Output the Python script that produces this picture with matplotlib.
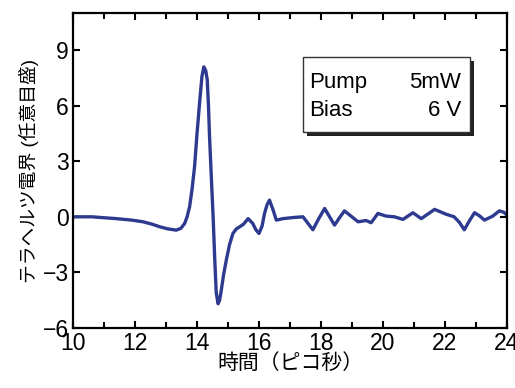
import numpy as np
import matplotlib
matplotlib.use("Agg")
import matplotlib.pyplot as plt
from matplotlib.patches import Rectangle

plt.rcParams['font.family'] = ['Liberation Sans', 'Noto Sans CJK JP', 'DejaVu Sans']

# terahertz waveform (time in ps, field in arb. units)
time_ps = [10.0, 10.6, 11.4, 11.9, 12.26, 12.55, 12.8, 13.05, 13.33, 13.48, 13.6, 13.68,
           13.76, 13.84, 13.92, 14.0, 14.09, 14.16, 14.22, 14.28, 14.33, 14.37, 14.4,
           14.46, 14.52, 14.57, 14.62, 14.68, 14.73, 14.78, 14.86, 14.95, 15.05, 15.16,
           15.27, 15.38, 15.5, 15.65, 15.8, 15.9, 16.0, 16.1, 16.18, 16.26, 16.34,
           16.45, 16.56, 16.77, 17.1, 17.42, 17.58, 17.74, 17.93, 18.12, 18.28, 18.44,
           18.6, 18.76, 19.0, 19.2, 19.46, 19.62, 19.84, 20.1, 20.37, 20.65, 20.97,
           21.24, 21.67, 22.04, 22.3, 22.47, 22.63, 22.8, 22.96, 23.12, 23.28, 23.55,
           23.76, 23.9, 24.0]
field = [0.0, 0.0, -0.1, -0.18, -0.27, -0.4, -0.54, -0.65, -0.72, -0.62, -0.36, 0.0,
         0.54, 1.5, 2.7, 4.5, 6.3, 7.6, 8.1, 7.9, 7.4, 6.0, 4.5,
         2.2, 0.0, -2.2, -4.1, -4.7, -4.5, -4.0, -3.1, -2.3, -1.5, -0.9,
         -0.65, -0.54, -0.4, -0.1, -0.36, -0.7, -0.9, -0.5, 0.18, 0.65, 0.9,
         0.4, -0.18, -0.1, -0.04, 0.0, -0.35, -0.7, -0.1, 0.45, 0.0, -0.45,
         -0.05, 0.32, 0.0, -0.27, -0.2, -0.32, 0.18, 0.04, 0.0, -0.14, 0.22,
         -0.1, 0.4, 0.14, 0.0, -0.3, -0.7, -0.2, 0.22, 0.05, -0.18, 0.04,
         0.32, 0.25, 0.1]

xticks = [10, 12, 14, 16, 18, 20, 22, 24]
yticks = [-6, -3, 0, 3, 6, 9]
line_color = '#2e3a8f'

fig = plt.figure(figsize=(5.15, 3.88), dpi=100)
ax = fig.add_axes([0.142, 0.155, 0.842, 0.811])

ax.plot(time_ps, field, color=line_color, lw=2.4, solid_joinstyle='round',
        solid_capstyle='round')

ax.set_xlim(10, 24)
ax.set_ylim(-6, 11)
ax.set_xticks(xticks)
ax.set_xticks(np.arange(10, 25, 1), minor=True)
ax.set_yticks(yticks)
ax.tick_params(which='both', direction='in', top=True, right=True, width=1.5)
ax.tick_params(which='major', length=5, labelsize=16.5, pad=3)
ax.tick_params(which='minor', length=4)
for s in ax.spines.values():
    s.set_linewidth(1.6)

ax.set_xlabel('時間（ピコ秒）', fontsize=15, labelpad=-1)
ax.set_ylabel('テラヘルツ電界 (任意目盛)', fontsize=13.5, labelpad=3)

# info box with drop shadow
bx, by, bw, bh = 0.53, 0.622, 0.385, 0.238
ax.add_patch(Rectangle((bx + 0.009, by - 0.013), bw, bh, transform=ax.transAxes,
                       facecolor='#222222', edgecolor='none', zorder=4))
ax.add_patch(Rectangle((bx, by), bw, bh, transform=ax.transAxes,
                       facecolor='white', edgecolor='#333333', lw=1.0, zorder=5))
ax.text(bx + 0.015, by + 0.158, 'Pump', transform=ax.transAxes, fontsize=16,
        va='center', ha='left', zorder=6)
ax.text(bx + bw - 0.02, by + 0.158, '5mW', transform=ax.transAxes, fontsize=16,
        va='center', ha='right', zorder=6)
ax.text(bx + 0.015, by + 0.07, 'Bias', transform=ax.transAxes, fontsize=16,
        va='center', ha='left', zorder=6)
ax.text(bx + bw - 0.02, by + 0.07, '6 V', transform=ax.transAxes, fontsize=16,
        va='center', ha='right', zorder=6)

fig.savefig('out.png', dpi=100)
